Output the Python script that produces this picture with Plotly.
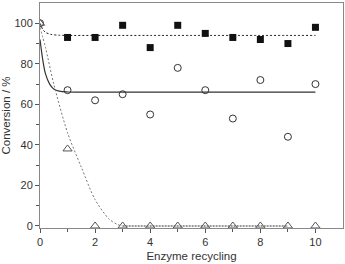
import plotly.graph_objects as go

cycles = [0, 1, 2, 3, 4, 5, 6, 7, 8, 9, 10]
squares = [100, 93, 93, 99, 88, 99, 95, 93, 92, 90, 98]
circles = [100, 67, 62, 65, 55, 78, 67, 53, 72, 44, 70]
triangles = [100, 38, 0, 0, 0, 0, 0, 0, 0, 0, 0]

# fit curves (control points)
fit_sq_x = [0, 0.1, 0.2, 0.4, 0.7, 1, 2, 4, 10]
fit_sq_y = [100, 97, 95.5, 94.5, 94.1, 94, 94, 94, 94]
fit_ci_x = [0, 0.1, 0.2, 0.35, 0.5, 0.7, 1, 1.5, 2, 4, 10]
fit_ci_y = [92, 82, 75, 70, 67.6, 66.5, 66.1, 66, 66, 66, 66]
fit_tr_x = [0, 0.2, 0.5, 1, 1.5, 2, 2.5, 2.8, 3]
fit_tr_y = [98, 88, 70, 46, 29, 13, 3.5, 0.8, 0]
flat_tr_x = [3, 9]
flat_tr_y = [0, 0]

fig = go.Figure()
fig.add_trace(go.Scatter(x=fit_sq_x, y=fit_sq_y, mode="lines",
                         line=dict(color="#222", width=1, dash="2px,2px", shape="spline", smoothing=0.8)))
fig.add_trace(go.Scatter(x=fit_ci_x, y=fit_ci_y, mode="lines",
                         line=dict(color="#333", width=1.2, shape="spline", smoothing=0.8)))
fig.add_trace(go.Scatter(x=fit_tr_x, y=fit_tr_y, mode="lines",
                         line=dict(color="#777", width=1, dash="2px,2px", shape="spline", smoothing=0.8)))
fig.add_trace(go.Scatter(x=flat_tr_x, y=flat_tr_y, mode="lines", line=dict(color="#999", width=2, dash="2px,1px")))
fig.add_trace(go.Scatter(x=cycles, y=circles, mode="markers",
                         marker=dict(symbol="circle-open", size=7, color="#333", line=dict(width=1))))
fig.add_trace(go.Scatter(x=cycles, y=triangles, mode="markers",
                         marker=dict(symbol="triangle-up-open", size=8, color="#555", line=dict(width=1))))
fig.add_trace(go.Scatter(x=cycles[1:], y=squares[1:], mode="markers",
                         marker=dict(symbol="square", size=7, color="#111")))

font = "Liberation Sans, Arial, sans-serif"
axis_common = dict(showline=True, linecolor="#888", linewidth=1, mirror=True, showgrid=False, zeroline=False,
                   ticks="outside", ticklen=4, tickcolor="#555",
                   tickfont=dict(family=font, size=11, color="#333"))
fig.update_xaxes(range=[0, 11], tickvals=[0, 2, 4, 6, 8, 10],
                 minor=dict(tickvals=[1, 3, 5, 7, 9], ticks="outside", ticklen=3, tickcolor="#555"),
                 title=dict(text="Enzyme recycling", standoff=4, font=dict(family=font, size=11.5, color="#333")),
                 **axis_common)
fig.update_yaxes(range=[-1, 110], tickvals=[0, 20, 40, 60, 80, 100],
                 minor=dict(tickvals=[10, 30, 50, 70, 90], ticks="outside", ticklen=3, tickcolor="#555"),
                 title=dict(text="Conversion / %", standoff=3, font=dict(family=font, size=11.5, color="#333")),
                 **axis_common)
fig.update_layout(width=345, height=264, margin=dict(l=40, r=2, t=3, b=36),
                  plot_bgcolor="white", paper_bgcolor="white", showlegend=False)
fig.write_html("out.html")
